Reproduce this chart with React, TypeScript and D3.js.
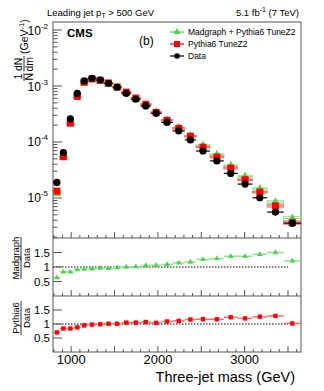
import React from 'react';
import * as d3 from 'd3';

// bins of three-jet mass (GeV)
const binEdges = [800, 870, 950, 1030, 1110, 1190, 1290, 1380, 1480, 1580, 1690, 1800, 1920, 2040, 2170, 2310, 2440, 2600, 2760, 2920, 3090, 3260, 3450, 3650];
const binCenters = [835, 910, 990, 1070, 1150, 1240, 1335, 1430, 1530, 1635, 1745, 1860, 1980, 2105, 2240, 2375, 2520, 2680, 2840, 3005, 3175, 3355, 3550];

// 1/N dN/dm for data
const dataValues = [1.9e-5, 6.5e-5, 2.58e-4, 7.4e-4, 1.23e-3, 1.37e-3, 1.28e-3, 1.12e-3, 9.5e-4, 7.4e-4, 5.8e-4, 4.4e-4, 3.25e-4, 2.24e-4, 1.58e-4, 1.09e-4, 6.9e-5, 4.6e-5, 2.75e-5, 1.77e-5, 1.01e-5, 5.6e-6, 3.55e-6];
const dataRelErr = [0.04, 0.02, 0.01, 0.01, 0.01, 0.01, 0.01, 0.01, 0.01, 0.01, 0.01, 0.01, 0.01, 0.015, 0.015, 0.02, 0.02, 0.03, 0.03, 0.04, 0.05, 0.06, 0.07];

// MC / data ratios
const madgraphRatio = [0.63, 0.83, 0.83, 0.91, 0.93, 0.94, 0.96, 0.95, 0.98, 1.0, 1.01, 1.05, 1.06, 1.09, 1.14, 1.17, 1.26, 1.29, 1.37, 1.37, 1.44, 1.5, 1.21];
const madgraphErr = [0.03, 0.02, 0.01, 0.01, 0.01, 0.01, 0.01, 0.01, 0.01, 0.01, 0.01, 0.01, 0.01, 0.01, 0.015, 0.015, 0.02, 0.02, 0.02, 0.02, 0.03, 0.04, 0.06];
const pythiaRatio = [0.7, 0.84, 0.84, 0.88, 0.95, 0.98, 0.99, 1.01, 1.01, 1.05, 1.05, 1.07, 1.04, 1.09, 1.11, 1.16, 1.17, 1.17, 1.24, 1.2, 1.26, 1.29, 1.02];
const pythiaErr = [0.03, 0.02, 0.01, 0.01, 0.01, 0.01, 0.01, 0.01, 0.01, 0.01, 0.01, 0.01, 0.01, 0.01, 0.01, 0.015, 0.015, 0.02, 0.02, 0.02, 0.02, 0.03, 0.04];

const ratioTicks = [0.5, 1, 1.5];
const xLabels = [1000, 2000, 3000];
const legendItems = ['Madgraph + Pythia6 TuneZ2', 'Pythia6 TuneZ2', 'Data'];

const GREEN = '#4fd24f';
const GREEN_LIGHT = '#8fe48f';
const RED = '#ff0000';
const RED_LIGHT = '#ff6a6a';
const AXIS = '#555';
const FONT = 'Liberation Sans, Arial, Helvetica, sans-serif';

const W = 324, H = 391;
const left = 53, right = 301;
const topY = 22, mainBottom = 238, midBottom = 296, lowBottom = 352;

export default function App() {
  const x = d3.scaleLinear().domain([790, 3650]).range([left, right]);
  const y = d3.scaleLog().domain([1.93e-6, 1.39e-2]).range([mainBottom, topY]);
  const yMid = d3.scaleLinear().domain([0, 2]).range([midBottom, mainBottom]);
  const yLow = d3.scaleLinear().domain([0, 2]).range([lowBottom, midBottom]);

  const majorX = d3.range(1000, 3651, 500);
  const minorX = d3.range(800, 3651, 100).filter(v => v % 500 !== 0);
  const logTicks = y.ticks();
  const isDecade = (v: number) => Math.abs(Math.log10(v) - Math.round(Math.log10(v))) < 1e-6;

  const tri = d3.symbol().type(d3.symbolTriangle);

  const xTicks = (yb: number, k: string) => (
    <g key={k}>
      {majorX.map(v => <line key={'M' + v} x1={x(v)} x2={x(v)} y1={yb} y2={yb - 6} stroke={AXIS} />)}
      {minorX.map(v => <line key={'m' + v} x1={x(v)} x2={x(v)} y1={yb} y2={yb - 3} stroke={AXIS} />)}
    </g>
  );

  const mcTop = (ratio: number[], err: number[], light: string, color: string, kind: string) =>
    ratio.map((r, i) => {
      const v = dataValues[i] * r;
      const e = Math.max(err[i] * 1.6, 0.025);
      const x0 = x(binEdges[i]), x1 = x(binEdges[i + 1]);
      const cx = x(binCenters[i]), cy = y(v);
      return (
        <g key={kind + i}>
          <rect x={x0} y={y(v * (1 + e))} width={x1 - x0} height={y(v * (1 - e)) - y(v * (1 + e))} fill="none" stroke={light} strokeWidth={1} />
          <line x1={x0} x2={x1} y1={cy} y2={cy} stroke={light} strokeWidth={1} />
          {kind === 'g'
            ? <path d={tri.size(32)()!} transform={`translate(${cx},${cy})`} fill={color} />
            : <rect x={cx - 3.5} y={cy - 3.5} width={7} height={7} fill={color} />}
        </g>
      );
    });

  const ratioPanel = (ratio: number[], err: number[], ys: d3.ScaleLinear<number, number>, light: string, color: string, kind: string) =>
    ratio.map((r, i) => {
      const x0 = x(binEdges[i]), x1 = x(binEdges[i + 1]);
      const cx = x(binCenters[i]), cy = ys(r);
      return (
        <g key={kind + 'r' + i}>
          <line x1={x0} x2={x1} y1={cy} y2={cy} stroke={light} strokeWidth={1.5} />
          <line x1={cx} x2={cx} y1={ys(r - err[i])} y2={ys(r + err[i])} stroke={color} strokeWidth={1} />
          {kind === 'g'
            ? <path d={tri.size(14)()!} transform={`translate(${cx},${cy})`} fill={color} />
            : <rect x={cx - 2.2} y={cy - 2.2} width={4.4} height={4.4} fill={color} />}
        </g>
      );
    });

  return (
    <svg width={W} height={H} style={{ position: 'absolute', left: 0, top: 0, background: '#fff' }} fontFamily={FONT}>
      {/* header */}
      <text x={47} y={16} fontSize={9.5}>Leading jet p<tspan dy={2} fontSize={7}>T</tspan><tspan dy={-2}> &gt; 500 GeV</tspan></text>
      <text x={299} y={16} fontSize={9.5} textAnchor="end">5.1 fb<tspan dy={-4} fontSize={7}>-1</tspan><tspan dy={4}> (7 TeV)</tspan></text>

      {/* frames */}
      <rect x={left} y={topY} width={right - left} height={lowBottom - topY} fill="none" stroke={AXIS} />
      <line x1={left} x2={right} y1={mainBottom} y2={mainBottom} stroke={AXIS} />
      <line x1={left} x2={right} y1={midBottom} y2={midBottom} stroke={AXIS} />

      {/* top panel y axis */}
      {logTicks.map((v, i) => (
        <line key={'yt' + i} x1={left} x2={left + (isDecade(v) ? 9 : 4.5)} y1={y(v)} y2={y(v)} stroke={AXIS} />
      ))}
      {logTicks.filter(isDecade).map(v => (
        <text key={'yl' + v} x={48} y={y(v) + 4.5} fontSize={12} textAnchor="end">
          10<tspan dy={-6} fontSize={8}>{Math.round(Math.log10(v))}</tspan>
        </text>
      ))}
      {xTicks(mainBottom, 'xt1')}
      {xTicks(midBottom, 'xt2')}
      {xTicks(lowBottom, 'xt3')}

      {/* y title top */}
      <g transform="translate(24,81) rotate(-90)" fontSize={10.5}>
        <text x={1.5} y={-2.5}>1</text>
        <text x={0.5} y={9}>N</text>
        <line x1={0} x2={8} y1={0} y2={0} stroke="#000" strokeWidth={0.8} />
        <text x={10} y={-2.5}>dN</text>
        <text x={9.5} y={9}>dm</text>
        <line x1={9.5} x2={25} y1={0} y2={0} stroke="#000" strokeWidth={0.8} />
        <text x={27} y={4}>(GeV<tspan dy={-4.5} fontSize={7.5}>-1</tspan><tspan dy={4.5}>)</tspan></text>
      </g>

      <text x={67} y={37} fontSize={11.5} fontWeight="bold">CMS</text>
      <text x={139} y={45} fontSize={12}>(b)</text>

      {/* legend */}
      {legendItems.map((t, i) => {
        const ly = 32 + i * 12;
        const col = i === 0 ? GREEN : i === 1 ? RED : '#000';
        return (
          <g key={'lg' + i}>
            <line x1={170} x2={184} y1={ly} y2={ly} stroke={col} strokeWidth={1.2} />
            {i === 0 && <path d={tri.size(22)()!} transform={`translate(177,${ly})`} fill={col} />}
            {i === 1 && <rect x={174} y={ly - 3} width={6} height={6} fill={col} />}
            {i === 2 && <circle cx={177} cy={ly} r={2.8} fill={col} />}
            <text x={188} y={ly + 3} fontSize={8.5}>{t}</text>
          </g>
        );
      })}

      {/* top panel marks */}
      {mcTop(madgraphRatio, madgraphErr, GREEN_LIGHT, GREEN, 'g')}
      {mcTop(pythiaRatio, pythiaErr, RED_LIGHT, RED, 'r')}
      {dataValues.map((v, i) => {
        const cx = x(binCenters[i]), cy = y(v);
        return (
          <g key={'d' + i}>
            <line x1={x(binEdges[i])} x2={x(binEdges[i + 1])} y1={cy} y2={cy} stroke="#000" strokeWidth={1.2} />
            <line x1={cx} x2={cx} y1={y(v * (1 - dataRelErr[i]))} y2={y(v * (1 + dataRelErr[i]))} stroke="#000" strokeWidth={1.2} />
            <circle cx={cx} cy={cy} r={3.6} fill="#000" />
          </g>
        );
      })}

      {/* ratio panels */}
      {[yMid, yLow].map((ys, k) => (
        <g key={'rp' + k}>
          <line x1={x(790)} x2={x(3500)} y1={ys(1)} y2={ys(1)} stroke="#000" strokeDasharray="1.5,1.5" strokeWidth={1} />
          {ratioTicks.map(t => (
            <g key={'rt' + t}>
              <line x1={left} x2={left + 9} y1={ys(t)} y2={ys(t)} stroke={AXIS} />
              <text x={50} y={ys(t) + 4} fontSize={11.5} textAnchor="end">{t}</text>
            </g>
          ))}
        </g>
      ))}
      {ratioPanel(madgraphRatio, madgraphErr, yMid, GREEN_LIGHT, GREEN, 'g')}
      {ratioPanel(pythiaRatio, pythiaErr, yLow, RED_LIGHT, RED, 'r')}

      {/* ratio titles */}
      <g transform="translate(21,258) rotate(-90)" fontSize={9.5} textAnchor="middle">
        <text x={0} y={-2}>Madgraph</text>
        <line x1={-21} x2={21} y1={0} y2={0} stroke="#000" strokeWidth={0.8} />
        <text x={0} y={8.5}>Data</text>
      </g>
      <g transform="translate(21,318) rotate(-90)" fontSize={9.5} textAnchor="middle">
        <text x={0} y={-2}>Pythia6</text>
        <line x1={-17} x2={17} y1={0} y2={0} stroke="#000" strokeWidth={0.8} />
        <text x={0} y={8.5}>Data</text>
      </g>

      {/* x axis labels */}
      {xLabels.map(v => (
        <text key={'xl' + v} x={x(v)} y={364} fontSize={13} textAnchor="middle">{v}</text>
      ))}
      <text x={295} y={382} fontSize={14.5} textAnchor="end">Three-jet mass (GeV)</text>
    </svg>
  );
}
